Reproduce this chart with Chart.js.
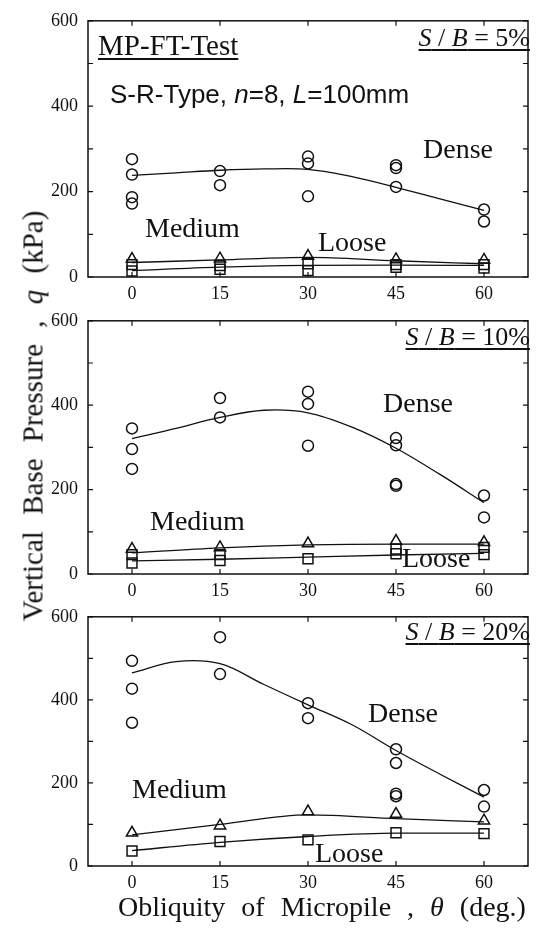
<!DOCTYPE html>
<html><head><meta charset="utf-8">
<script src="https://cdn.jsdelivr.net/npm/chart.js@4/dist/chart.umd.min.js"></script>
<style>
html,body{margin:0;padding:0;background:#fff;}
#wrap{position:relative;width:538px;height:929px;overflow:hidden;background:#fff;}
canvas{position:absolute;left:0;}
.t{position:absolute;white-space:pre;color:#111;line-height:1;}
.serif{font-family:"Liberation Serif","Times New Roman",serif;}
.sans{font-family:"Liberation Sans",Arial,sans-serif;}
.u{text-decoration:underline;text-decoration-thickness:1.5px;text-underline-offset:3px;}
i{font-style:italic;}
</style></head>
<body><div id="wrap">
<canvas id="c1" style="top:0px" width="538" height="300"></canvas>
<canvas id="c2" style="top:300px" width="538" height="300"></canvas>
<canvas id="c3" style="top:596px" width="538" height="333"></canvas>
</div>
<script>
// ---------- data ----------
const angles = [0, 15, 30, 45, 60];
const curveAngles = [0, 7.5, 15, 22.5, 30, 37.5, 45, 52.5, 60];
const xTickLabels = [0, 15, 30, 45, 60];
const yTicks = [0, 100, 200, 300, 400, 500, 600];
const yLabelTicks = [0, 200, 400, 600];

// S/B = 5%
const dense5 = [[276, 240, 187, 172], [248, 215], [282, 266, 189], [262, 255, 211], [158, 130]];
const dense5Curve = [238, 244, 250, 253, 252, 235, 210, 183, 156];
const medium5 = [[42], [43], [49], [41], [40]];
const medium5Curve = [34, 40, 46, 38, 31];
const loose5 = [[29, 14], [27, 18], [31, 15], [29, 23], [29, 21]];
const loose5Curve = [15, 23, 27, 28, 27];

// S/B = 10%
const dense10 = [[345, 296, 249], [417, 371], [432, 403, 304], [322, 305, 213, 209], [186, 134]];
const dense10Curve = [321, 345, 371, 388, 382, 348, 298, 236, 169];
const medium10 = [[59], [63], [72], [78], [75]];
const medium10Curve = [50, 62, 69, 71, 71];
const loose10 = [[46, 26], [46, 32], [36], [59, 48], [63, 46]];
const loose10Curve = [31, 35, 40, 45, 49];

// S/B = 20%
const dense20 = [[494, 427, 345], [551, 462], [392, 356], [281, 248, 174, 168], [183, 143]];
const dense20Curve = [465, 492, 487, 437, 388, 340, 278, 221, 166];
const medium20 = [[80], [97], [131], [125], [109]];
const medium20Curve = [75, 100, 123, 114, 106];
const loose20 = [[36], [59], [63], [80], [78]];
const loose20Curve = [37, 57, 71, 79, 79];

// ---------- helpers ----------
const INK = '#111';
function obsPoints(groups) {
  const pts = [];
  groups.forEach((g, i) => g.forEach(v => pts.push({x: angles[i], y: v})));
  return pts;
}
function curvePoints(xs, ys) { return xs.map((x, i) => ({x, y: ys[i]})); }

const framePlugin = {
  id: 'frame',
  afterDraw(chart) {
    const {ctx, chartArea: a, scales: {x, y}} = chart;
    ctx.save();
    ctx.strokeStyle = INK;
    ctx.lineWidth = 1.5;
    ctx.strokeRect(a.left, a.top, a.right - a.left, a.bottom - a.top);
    ctx.lineWidth = 1.2;
    ctx.beginPath();
    x.ticks.forEach(t => {
      const px = x.getPixelForValue(t.value);
      ctx.moveTo(px, a.bottom); ctx.lineTo(px, a.bottom - 5);
      ctx.moveTo(px, a.top); ctx.lineTo(px, a.top + 5);
    });
    y.ticks.forEach(t => {
      const py = y.getPixelForValue(t.value);
      ctx.moveTo(a.left, py); ctx.lineTo(a.left + 5, py);
      ctx.moveTo(a.right, py); ctx.lineTo(a.right - 5, py);
    });
    ctx.stroke();
    ctx.restore();
  }
};

function makeChart(id, padTop, axisH, d, dc, m, mc, l, lc) {
  const lineDs = (pts, mode, tension) => ({data: pts, showLine: true, pointRadius: 0, borderColor: INK, borderWidth: 1.3,
    cubicInterpolationMode: mode, tension: tension, fill: false});
  const markDs = (pts, style, r) => ({data: pts, showLine: false, pointStyle: style, pointRadius: r,
    borderColor: INK, borderWidth: 1.5, backgroundColor: 'rgba(0,0,0,0)'});
  new Chart(document.getElementById(id), {
    type: 'scatter',
    data: {datasets: [
      lineDs(curvePoints(curveAngles, dc), 'default', 0.35),
      lineDs(curvePoints(angles, mc), 'monotone', 0.4),
      lineDs(curvePoints(angles, lc), 'monotone', 0.4),
      markDs(obsPoints(d), 'circle', 5.5),
      markDs(obsPoints(m), 'triangle', 6.5),
      markDs(obsPoints(l), 'rect', 7)
    ]},
    options: {
      responsive: false, animation: false, devicePixelRatio: 1,
      layout: {padding: {top: padTop, right: 10, left: 0, bottom: 0}},
      plugins: {legend: {display: false}, tooltip: {enabled: false}},
      scales: {
        x: {type: 'linear', min: -7.5, max: 67.5,
          afterBuildTicks: s => { s.ticks = xTickLabels.map(v => ({value: v})); },
          afterFit: s => { s.height = axisH; },
          grid: {display: false, drawTicks: false}, border: {display: false},
          ticks: {font: {family: 'Liberation Serif', size: 18}, color: INK, padding: 6, maxRotation: 0, autoSkip: false}
        },
        y: {type: 'linear', min: 0, max: 600,
          afterBuildTicks: s => { s.ticks = yTicks.map(v => ({value: v})); },
          afterFit: s => { s.width = 88; },
          grid: {display: false, drawTicks: false}, border: {display: false},
          ticks: {font: {family: 'Liberation Serif', size: 18}, color: INK, padding: 10, autoSkip: false,
            callback: v => yLabelTicks.includes(v) ? String(v) : ''}
        }
      }
    },
    plugins: [framePlugin]
  });
}

makeChart('c1', 16, 23, dense5, dense5Curve, medium5, medium5Curve, loose5, loose5Curve);
makeChart('c2', 15, 26, dense10, dense10Curve, medium10, medium10Curve, loose10, loose10Curve);
makeChart('c3', 14, 63, dense20, dense20Curve, medium20, medium20Curve, loose20, loose20Curve);

// ---------- text annotations ----------
const wrap = document.getElementById('wrap');
function addText(html, opts) {
  const el = document.createElement('div');
  el.className = 't ' + (opts.cls || 'serif');
  el.innerHTML = html;
  const F = opts.size;
  el.style.fontSize = F + 'px';
  const asc = (opts.cls && opts.cls.includes('sans')) ? 0.8465 : 0.8375;
  el.style.top = (opts.baseline - asc * F) + 'px';
  if (opts.right !== undefined) el.style.right = (538 - opts.right) + 'px';
  else el.style.left = opts.left + 'px';
  if (opts.ws) el.style.wordSpacing = opts.ws + 'px';
  wrap.appendChild(el);
  return el;
}
addText('MP-FT-Test', {cls: 'serif u', size: 29, left: 98, baseline: 55});
addText('S-R-Type, <i>n</i>=8, <i>L</i>=100mm', {cls: 'sans', size: 26, left: 110, baseline: 103});
addText('<i>S</i> / <i>B</i> = 5%', {cls: 'serif u', size: 26, right: 530, baseline: 47});
addText('<i>S</i> / <i>B</i> = 10%', {cls: 'serif u', size: 26, right: 530, baseline: 346});
addText('<i>S</i> / <i>B</i> = 20%', {cls: 'serif u', size: 26, right: 530, baseline: 641});

addText('Dense', {size: 28, left: 423, baseline: 158});
addText('Medium', {size: 28, left: 145, baseline: 237});
addText('Loose', {size: 28, left: 318, baseline: 251});
addText('Dense', {size: 28, left: 383, baseline: 412});
addText('Medium', {size: 28, left: 150, baseline: 530});
addText('Loose', {size: 28, left: 402, baseline: 567});
addText('Dense', {size: 28, left: 368, baseline: 722});
addText('Medium', {size: 28, left: 132, baseline: 798});
addText('Loose', {size: 28, left: 315, baseline: 862});

addText('Obliquity of Micropile , <i>θ</i> (deg.)', {size: 28, left: 118, baseline: 916, ws: 9});

const yt = document.createElement('div');
yt.className = 't serif';
yt.innerHTML = 'Vertical Base Pressure , <i>q</i> (kPa)';
yt.style.fontSize = '29px';
yt.style.wordSpacing = '9px';
yt.style.left = '33px';
yt.style.top = '416px';
yt.style.transform = 'translate(-50%,-50%) rotate(-90deg)';
wrap.appendChild(yt);
</script>
</body></html>
